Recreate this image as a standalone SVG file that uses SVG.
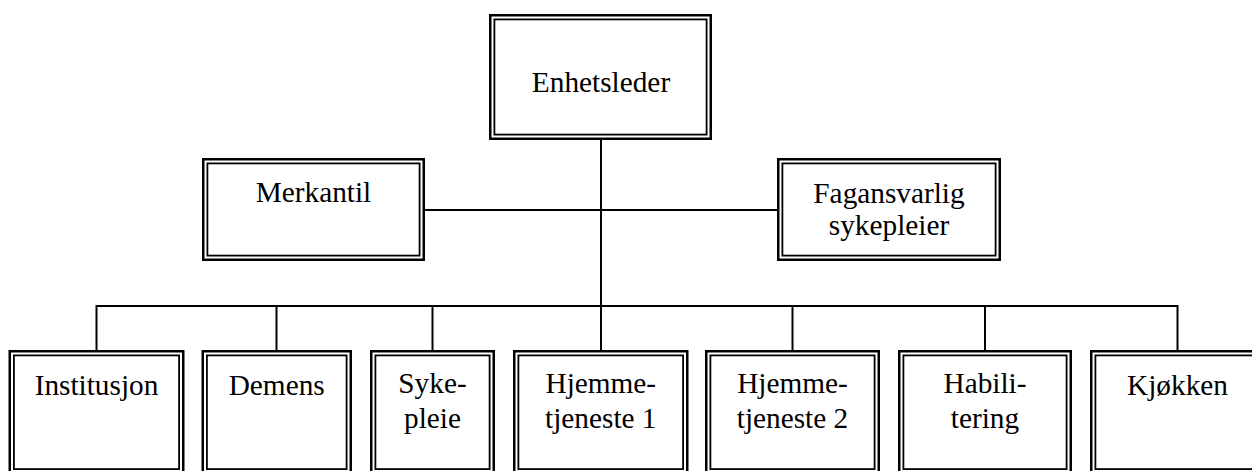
<svg xmlns="http://www.w3.org/2000/svg" width="1252" height="471" viewBox="0 0 1252 471">
<style>
.o{fill:#fff;stroke:#000;stroke-width:2.5}
.i{fill:none;stroke:#000;stroke-width:1.8}
.t{font-family:"Liberation Serif","Times New Roman",serif;font-size:29.3px;fill:#000;text-anchor:middle}
.c{fill:none;stroke:#000;stroke-width:2}
</style>
<rect width="1252" height="471" fill="#fff"/>
<g id="connectors">
<line class="c" x1="601" y1="140" x2="601" y2="306"/>
<line class="c" x1="425" y1="210" x2="777" y2="210"/>
<polyline class="c" points="96.5,350 96.5,306 1177.5,306 1177.5,350"/>
<line class="c" x1="276.5" y1="306" x2="276.5" y2="350"/>
<line class="c" x1="432.5" y1="306" x2="432.5" y2="350"/>
<line class="c" x1="601" y1="306" x2="601" y2="350"/>
<line class="c" x1="792.5" y1="306" x2="792.5" y2="350"/>
<line class="c" x1="985" y1="306" x2="985" y2="350"/>
</g>
<g id="enhetsleder">
<rect class="o" x="490.25" y="15.25" width="220.5" height="123.5"/>
<rect class="i" x="494.4" y="19.4" width="212.2" height="115.2"/>
<text class="t" x="601" y="91.5">Enhetsleder</text>
</g>
<g id="merkantil">
<rect class="o" x="203.25" y="159.25" width="220.5" height="100.5"/>
<rect class="i" x="207.4" y="163.4" width="212.2" height="92.2"/>
<text class="t" x="313.5" y="202">Merkantil</text>
</g>
<g id="fagansvarlig">
<rect class="o" x="778.25" y="159.25" width="221.5" height="100.5"/>
<rect class="i" x="782.4" y="163.4" width="213.2" height="92.2"/>
<text class="t" x="889" y="203">Fagansvarlig</text>
<text class="t" x="889" y="235">sykepleier</text>
</g>
<g id="institusjon">
<rect class="o" x="9.75" y="351.25" width="173.5" height="130"/>
<rect class="i" x="13.9" y="355.4" width="165.2" height="113.7"/>
<text class="t" x="96.5" y="394.5">Institusjon</text>
</g>
<g id="demens">
<rect class="o" x="202.75" y="351.25" width="148" height="130"/>
<rect class="i" x="206.9" y="355.4" width="139.7" height="113.7"/>
<text class="t" x="276.7" y="394.5">Demens</text>
</g>
<g id="sykepleie">
<rect class="o" x="371.25" y="351.25" width="122.5" height="130"/>
<rect class="i" x="375.4" y="355.4" width="114.2" height="113.7"/>
<text class="t" x="432.5" y="392.5">Syke-</text>
<text class="t" x="432.5" y="427.5">pleie</text>
</g>
<g id="hjemmetjeneste1">
<rect class="o" x="514.25" y="351.25" width="173" height="130"/>
<rect class="i" x="518.4" y="355.4" width="164.7" height="113.7"/>
<text class="t" x="600.8" y="392.5">Hjemme-</text>
<text class="t" x="600.8" y="427.5">tjeneste 1</text>
</g>
<g id="hjemmetjeneste2">
<rect class="o" x="706.25" y="351.25" width="172.5" height="130"/>
<rect class="i" x="710.4" y="355.4" width="164.2" height="113.7"/>
<text class="t" x="792.5" y="392.5">Hjemme-</text>
<text class="t" x="792.5" y="427.5">tjeneste 2</text>
</g>
<g id="habilitering">
<rect class="o" x="899.25" y="351.25" width="171.5" height="130"/>
<rect class="i" x="903.4" y="355.4" width="163.2" height="113.7"/>
<text class="t" x="985" y="392.5">Habili-</text>
<text class="t" x="985" y="427.5">tering</text>
</g>
<g id="kjokken">
<rect class="o" x="1091.25" y="351.25" width="171.5" height="130"/>
<rect class="i" x="1095.4" y="355.4" width="163.2" height="113.7"/>
<text class="t" x="1177.5" y="394.5">Kjøkken</text>
</g>
</svg>
